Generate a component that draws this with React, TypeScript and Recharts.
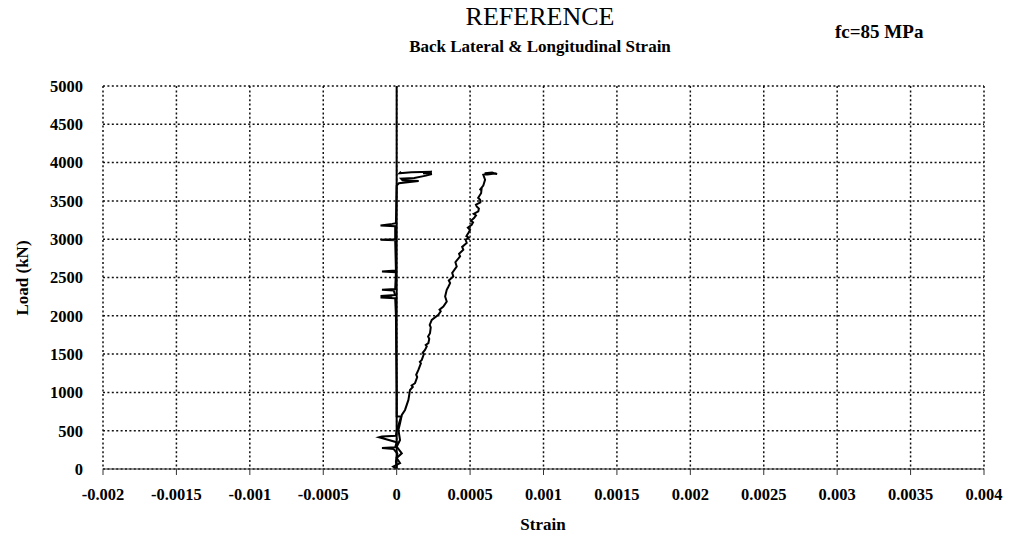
import React from 'react';
import { LineChart, Line, XAxis, YAxis, CartesianGrid, ReferenceLine } from 'recharts';

// strain ticks along the bottom, load ticks up the side
const strainTicks = [-0.002, -0.0015, -0.001, -0.0005, 0, 0.0005, 0.001, 0.0015, 0.002, 0.0025, 0.003, 0.0035, 0.004];
const loadTicks = [0, 500, 1000, 1500, 2000, 2500, 3000, 3500, 4000, 4500, 5000];

// longitudinal gauge (micro-strain) vs load (kN)
const longStrain = [
  0, -24, 23, 0, 35, 0, 23, 12, 23, 35, 57, 80, 91, 110, 102, 125, 140, 133, 148, 165, 158, 171, 185, 178,
  193, 205, 198, 216, 222, 214, 227, 232, 225, 239, 284, 300, 292, 318, 341, 330, 341, 352, 364, 355, 386,
  378, 409, 400, 432, 425, 454, 446, 477, 470, 490, 475, 488, 500, 485, 511, 520, 505, 527, 540, 525, 556,
  560, 545, 540, 570, 568, 555, 575, 579, 565, 590, 602, 590, 640, 684, 650, 600, 620, 680,
];
const longLoad = [
  0, 30, 78, 144, 205, 291, 379, 510, 597, 706, 771, 902, 1032, 1070, 1090, 1120, 1200, 1230, 1294, 1380,
  1400, 1425, 1500, 1520, 1555, 1600, 1620, 1643, 1700, 1730, 1773, 1850, 1880, 1947, 2013, 2060, 2080,
  2121, 2187, 2252, 2340, 2380, 2427, 2460, 2513, 2560, 2644, 2700, 2775, 2810, 2862, 2900, 2950, 2990,
  3020, 3040, 3080, 3120, 3150, 3189, 3220, 3240, 3276, 3310, 3330, 3363, 3400, 3428, 3450, 3480, 3516,
  3540, 3600, 3668, 3640, 3700, 3777, 3840, 3860, 3850, 3870, 3860, 3845, 3860,
];

// lateral gauge (micro-strain) vs load (kN)
const latStrain = [
  0, -5, 5, -20, -100, -10, 0, -120, -100, -5, 0, 30, 0, 0, -3, -5, -10, -110, -30, -110, -10, -20, -100,
  -10, -5, -100, -5, -10, -110, -10, -10, -110, -30, -5, 0, 15, 150, 40, 30, 120, 200, 240, 180, 240, 100,
  20, 30,
];
const latLoad = [
  0, 100, 200, 260, 274, 285, 350, 415, 425, 435, 500, 683, 690, 1000, 1500, 2000, 2230, 2240, 2250, 2260,
  2270, 2330, 2340, 2350, 2570, 2579, 2590, 2985, 2993, 3000, 3170, 3180, 3200, 3210, 3700, 3730, 3760,
  3770, 3790, 3800, 3830, 3850, 3860, 3880, 3875, 3860, 3880,
];

const toPoints = (strain: number[], load: number[]) =>
  strain.map((s, i) => ({ strain: s / 1e6, load: load[i] }));

const longitudinal = toPoints(longStrain, longLoad);
const lateral = toPoints(latStrain, latLoad);

const font = '"Liberation Serif", "Times New Roman", serif';
const tickStyle = { fontSize: 16.5, fontWeight: 700, fill: '#000', fontFamily: font };

const App: React.FC = () => {
  return (
    <div style={{ position: 'absolute', left: 0, top: 0, width: 1012, height: 546, background: '#fff' }}>
      <LineChart width={1012} height={546} margin={{ top: 86, right: 28, left: 0, bottom: 47 }}>
        <CartesianGrid stroke="#111" strokeWidth={1.5} strokeDasharray="2 2.4" />
        <XAxis
          type="number"
          dataKey="strain"
          domain={[-0.002, 0.004]}
          ticks={strainTicks}
          tickFormatter={(v) => String(v)}
          allowDataOverflow
          height={30}
          stroke="#333"
          tickSize={6}
          tickMargin={13}
          tick={tickStyle}
        />
        <YAxis
          type="number"
          dataKey="load"
          domain={[0, 5000]}
          ticks={loadTicks}
          width={103}
          axisLine={false}
          tickLine={false}
          tickSize={6}
          tickMargin={14}
          tick={tickStyle}
        />
        <ReferenceLine x={0} stroke="#000" strokeWidth={2} />
        <Line
          data={lateral}
          dataKey="load"
          type="linear"
          stroke="#000"
          strokeWidth={2}
          dot={false}
          isAnimationActive={false}
        />
        <Line
          data={longitudinal}
          dataKey="load"
          type="linear"
          stroke="#000"
          strokeWidth={2}
          dot={false}
          isAnimationActive={false}
        />
      </LineChart>
      <svg
        width={1012}
        height={546}
        style={{ position: 'absolute', left: 0, top: 0, pointerEvents: 'none' }}
        fontFamily={font}
      >
        <text x={540} y={25} textAnchor="middle" fontSize={26}>
          REFERENCE
        </text>
        <text x={540} y={52} textAnchor="middle" fontSize={17} fontWeight={700}>
          Back Lateral &amp; Longitudinal Strain
        </text>
        <text x={835} y={38} fontSize={19} fontWeight={700}>
          fc=85 MPa
        </text>
        <text x={543} y={530} textAnchor="middle" fontSize={17} fontWeight={700}>
          Strain
        </text>
        <text
          x={22}
          y={278}
          textAnchor="middle"
          dominantBaseline="central"
          fontSize={17}
          fontWeight={700}
          transform="rotate(-90 22 278)"
        >
          Load (kN)
        </text>
      </svg>
    </div>
  );
};

export default App;
